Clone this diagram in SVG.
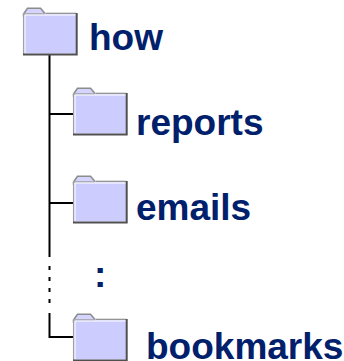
<svg xmlns="http://www.w3.org/2000/svg" width="344" height="361" viewBox="0 0 344 361">
<defs>
<style>
.t{font-family:"Liberation Sans",Arial,sans-serif;font-weight:bold;font-size:37px;fill:#00206b}
.c{stroke:#000;stroke-width:2;fill:none}
</style>
<g id="folder">
<path d="M0.500 7L4.500 1.200H17.500L22.500 7V9H0.500Z" fill="#d4d4ff" stroke="#8c8c8c" stroke-width="1.500"/>
<rect x="0" y="6.500" width="53" height="40" fill="#ccccff"/>
<path d="M0.600 47V6.800H22" fill="none" stroke="#a0a0a0" stroke-width="1.300"/>
<path d="M2 46V8H53" fill="none" stroke="#fff" stroke-width="1"/>
<path d="M23 6.300H53" fill="none" stroke="#8c8c8c" stroke-width="1.200"/>
<path d="M53.700 6V47.500H0" fill="none" stroke="#505050" stroke-width="2"/>
</g>
</defs>
<g id="connectors">
<path class="c" d="M49.500 54V257"/>
<path class="c" d="M49 114H75"/>
<path class="c" d="M49 203H75"/>
<path class="c" d="M49.500 266V270M49.500 277V281M49.500 288V292M49.500 299V303"/>
<path class="c" d="M49.500 313V337H75"/>
</g>
<g id="how"><use href="#folder" x="23" y="7"/><text class="t" x="89" y="50">how</text></g>
<g id="reports"><use href="#folder" x="73" y="87"/><text class="t" x="136" y="135">reports</text></g>
<g id="emails"><use href="#folder" x="73" y="175"/><text class="t" x="136" y="219.500">emails</text></g>
<g id="dots"><text class="t" x="94" y="287">:</text></g>
<g id="bookmarks"><use href="#folder" x="73" y="313"/><text class="t" x="146" y="359">bookmarks</text></g>
</svg>
